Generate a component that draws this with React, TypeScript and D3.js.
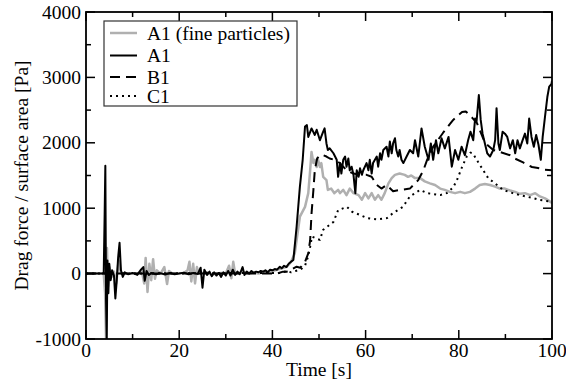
import * as d3 from "d3";

// time [s], drag force per surface area [Pa]
const a1Fine: [number, number][] = [
  [0, 0], [3.8, 0], [4.1, -300], [4.3, -1000], [4.5, 390], [4.7, -200], [5, 100], [5.5, -50],
  [6, 30], [6.5, -150], [7, 200], [7.5, 0], [9, 0], [11, 0], [12, 30], [12.5, -150],
  [12.8, 240], [13.2, -280], [13.6, 150], [14, -100], [14.4, 220], [14.8, -80], [15.2, 50],
  [16, 0], [16.8, 100], [17.4, -160], [17.8, 40], [18.5, 0], [21, 10], [21.8, 50], [22.2, 180],
  [22.6, -120], [23, 150], [23.4, -150], [23.8, 100], [24.2, 0], [26, 20], [27, -20], [28, 0],
  [29, 10], [30, 0], [30.7, 120], [31.2, -70], [31.6, 180], [32, 0], [34, 20], [35, 0],
  [36, 20], [37, 0], [38, 20], [39, 30], [40, 40], [41, 60], [42, 80], [43.1, 105], [44, 180],
  [44.8, 310], [45.9, 870], [47, 1020], [47.7, 1230], [48.1, 1580], [48.4, 1860], [48.8, 1690],
  [49.1, 1740], [49.5, 1630], [49.8, 1740], [50.2, 1630], [50.5, 1690], [50.9, 1480],
  [51.6, 1430], [51.9, 1280], [52.6, 1300], [53.3, 1230], [54.1, 1280], [54.5, 1230],
  [55.2, 1280], [55.9, 1200], [56.6, 1300], [57.4, 1230], [58.5, 1200], [59.2, 1130],
  [59.9, 1230], [60.6, 1150], [61.3, 1230], [62, 1130], [62.7, 1200], [63.4, 1130],
  [64.1, 1230], [64.9, 1380], [65.6, 1460], [66.3, 1510], [67.3, 1530], [68.4, 1510],
  [69.1, 1480], [69.8, 1500], [70.6, 1460], [71.7, 1460], [72.7, 1410], [73.8, 1380],
  [74.9, 1355], [76, 1300], [77, 1280], [78.1, 1250], [79.2, 1230], [80.3, 1250], [81.3, 1230],
  [82.4, 1250], [83.5, 1300], [84.5, 1355], [85.6, 1370], [86.7, 1355], [87.8, 1330],
  [88.8, 1300], [89.9, 1300], [91, 1270], [92.1, 1250], [93.1, 1220], [94.2, 1230],
  [95.3, 1200], [96.4, 1230], [97.4, 1180], [98.5, 1150], [99.6, 1100], [100, 1080],
];

const a1: [number, number][] = [
  [0, 0], [3.8, 0], [4, 900], [4.15, 1650], [4.3, -400], [4.45, -1000], [4.6, 200], [4.8, -300],
  [5, 150], [5.3, -100], [5.6, 50], [6, -30], [6.3, -380], [6.6, -100], [6.9, 250], [7.2, 470],
  [7.5, 50], [7.9, -50], [8.3, 20], [9, -10], [10, 10], [11, -20], [11.8, 60], [12.3, 100],
  [12.6, -110], [13, 40], [13.5, -20], [14, 10], [15, -10], [16, 5], [17, -15], [18, 10],
  [19, -10], [20, 0], [21, 15], [22, -10], [23, 10], [24, -5], [24.6, 90], [25, -215],
  [25.4, 60], [26, -20], [26.5, 30], [27, -40], [27.5, 20], [28, -30], [28.5, 10], [29, -50],
  [29.5, 20], [30, -30], [30.5, 40], [31, -30], [31.5, 60], [32, -20], [32.5, 30], [33, -10],
  [33.6, 100], [34, -20], [34.5, 30], [35, 0], [35.5, 40], [36, 10], [36.5, 30], [37, 20],
  [37.5, 40], [38, 30], [38.5, 50], [39, 20], [39.5, 60], [40, 50], [40.5, 70], [41, 60],
  [41.6, 105], [42, 80], [42.5, 120], [43, 100], [43.5, 150], [44, 180], [44.5, 210],
  [45.2, 720], [45.9, 1330], [46.5, 1740], [47, 2250], [47.4, 2270], [47.7, 2090],
  [48.4, 2220], [49.1, 2120], [49.5, 2200], [50.2, 2040], [50.9, 2170], [51.2, 2220],
  [51.6, 1990], [51.9, 1890], [52.3, 1915], [53.1, 1840], [53.8, 1740], [54.1, 1480],
  [54.5, 1690], [54.8, 1530], [55.2, 1740], [55.6, 1790], [55.9, 1635], [56.3, 1760],
  [56.6, 1580], [57, 1635], [57.4, 1510], [57.8, 1230], [58.1, 1580], [58.5, 1480],
  [58.8, 1610], [59.2, 1510], [59.5, 1580], [60.2, 1690], [60.6, 1580], [60.9, 1740],
  [61.3, 1530], [61.6, 1690], [62.4, 1790], [62.7, 1635], [63.1, 1840], [63.4, 1740],
  [63.8, 1890], [64.5, 1940], [64.9, 1790], [65.2, 2020], [65.6, 1840], [65.9, 1990],
  [66.3, 2070], [66.6, 1890], [67, 1790], [67.3, 1890], [67.7, 1740], [68.1, 1690],
  [68.8, 1790], [69.5, 1890], [70.2, 1840], [70.6, 2040], [71.3, 1790], [72, 2220],
  [72.7, 1940], [73.5, 1740], [74, 1990], [74.5, 1740], [75.1, 2040], [75.6, 1840],
  [76.3, 2070], [77, 1915], [77.8, 2090], [78.5, 1635], [79.2, 1890], [79.9, 1740],
  [80.6, 1940], [81.3, 1810], [82, 2040], [82.5, 2170], [83.1, 2040], [83.5, 2370],
  [83.8, 2320], [84.3, 2730], [84.7, 2350], [85.1, 2140], [85.6, 1990], [86.1, 1840],
  [86.7, 1790], [87.4, 1890], [87.8, 2040], [88.1, 2530], [88.5, 1990], [88.8, 1890],
  [89.4, 2170], [89.9, 2140], [90.4, 2090], [91, 1915], [91.6, 2040], [92.1, 1840],
  [92.6, 2040], [93.1, 1915], [93.7, 2040], [94.2, 2140], [94.7, 1990], [95.1, 2370],
  [95.6, 2090], [96.1, 1940], [96.6, 2120], [97.1, 1970], [97.6, 1740], [98, 2090],
  [98.5, 2400], [99, 2700], [99.4, 2860], [99.9, 2900], [100, 2950],
];

const b1: [number, number][] = [
  [0, 0], [41, 0], [42.3, 30], [43.1, 30], [44, 60], [45.2, 105], [46, 90], [47, 180],
  [47.7, 310], [48.1, 510], [48.4, 920], [48.8, 1280], [49.1, 1580], [49.6, 1760],
  [50.2, 1810], [50.9, 1810], [51.6, 1790], [52.3, 1760], [53.3, 1740], [54.5, 1690],
  [55.9, 1580], [57.4, 1530], [58.8, 1510], [60.2, 1510], [61.3, 1480], [62.4, 1355],
  [63.4, 1300], [64.5, 1355], [65.9, 1260], [67.5, 1280], [69.5, 1300], [71.3, 1430],
  [72.4, 1580], [73.2, 1740], [74.5, 1940], [76.6, 2150], [78.8, 2350], [80.7, 2470],
  [81.5, 2480], [82.8, 2390], [83.9, 2300], [85.6, 2000], [87.4, 1890], [88.8, 1860],
  [91, 1810], [92, 1760], [93.8, 1700], [95.7, 1630], [97, 1615], [98, 1590], [100, 1580],
];

const c1: [number, number][] = [
  [0, 0], [42, 10], [43, 40], [44, 20], [45, 40], [46, 60], [47, 120], [47.6, 250],
  [48.1, 410], [48.5, 565], [49.3, 540], [50.2, 515], [50.9, 670], [53.1, 790], [54.1, 970],
  [56, 1020], [57.1, 946], [58.8, 896], [60.3, 850], [62.5, 830], [64.6, 850], [65.9, 926],
  [68, 1020], [69.5, 1180], [71.7, 1280], [73.2, 1230], [76, 1200], [77.4, 1230],
  [78.8, 1320], [79.6, 1430], [80.7, 1630], [81.7, 1790], [82.5, 1850], [83, 1840],
  [84.1, 1710], [85.2, 1585], [86.3, 1460], [88.2, 1355], [89.5, 1280], [91.6, 1230],
  [93.1, 1200], [95.9, 1155], [97.4, 1125], [100, 1100],
];

const xTicks = [0, 20, 40, 60, 80, 100];
const yTicks = [-1000, 0, 1000, 2000, 3000, 4000];
const legendLabels = ["A1 (fine particles)", "A1", "B1", "C1"];

const W = 566;
const H = 381;
const left = 86;
const right = 552;
const top = 12;
const bottom = 339;
const font = "Liberation Serif, DejaVu Serif, serif";

const styles = [
  { stroke: "#b0b0b0", width: 2.5, dash: undefined },
  { stroke: "#000", width: 2, dash: undefined },
  { stroke: "#000", width: 2, dash: "10,6" },
  { stroke: "#000", width: 2, dash: "2,4" },
];

export default function App() {
  const x = d3.scaleLinear().domain([0, 100]).range([left, right]);
  const y = d3.scaleLinear().domain([-1000, 4000]).range([bottom, top]);
  const line = d3
    .line<[number, number]>()
    .x((d) => x(d[0]))
    .y((d) => y(d[1]));

  const series = [a1Fine, a1, b1, c1];
  // draw order: grey first, dotted, dashed, then black on top
  const order = [0, 3, 2, 1];

  const xMinor = d3.range(0, 101, 10);
  const yMinor = d3.range(-1000, 4001, 500);

  const legendRows = [33, 55.5, 77, 96];

  return (
    <svg width={W} height={H} style={{ position: "absolute", left: 0, top: 0, background: "#fff", fontFamily: font }}>
      <defs>
        <clipPath id="plot">
          <rect x={left} y={top} width={right - left} height={bottom - top} />
        </clipPath>
      </defs>
      <g clipPath="url(#plot)" fill="none" strokeLinejoin="round">
        {order.map((i) => (
          <path
            key={i}
            d={line(series[i]) ?? ""}
            stroke={styles[i].stroke}
            strokeWidth={styles[i].width}
            strokeDasharray={styles[i].dash}
          />
        ))}
      </g>

      {/* ticks on all four sides */}
      <g stroke="#000" strokeWidth={1.5}>
        {xMinor.map((t) => {
          const len = t % 20 === 0 ? 9 : 5;
          return (
            <g key={"x" + t}>
              <line x1={x(t)} x2={x(t)} y1={bottom} y2={bottom - len} />
              <line x1={x(t)} x2={x(t)} y1={top} y2={top + len} />
            </g>
          );
        })}
        {yMinor.map((v) => {
          const len = v % 1000 === 0 ? 9 : 5;
          return (
            <g key={"y" + v}>
              <line x1={left} x2={left + len} y1={y(v)} y2={y(v)} />
              <line x1={right} x2={right - len} y1={y(v)} y2={y(v)} />
            </g>
          );
        })}
      </g>
      <rect x={left} y={top} width={right - left} height={bottom - top} fill="none" stroke="#000" strokeWidth={1.8} />

      <g style={{ fontFamily: font }} fontSize={19.5} fill="#000">
        {xTicks.map((t) => (
          <text key={t} x={x(t)} y={357} textAnchor="middle">{t}</text>
        ))}
        {yTicks.map((v) => (
          <text key={v} x={81} y={y(v) + 6.5} textAnchor="end">{v}</text>
        ))}
        <text x={(left + right) / 2} y={376} textAnchor="middle">Time [s]</text>
        <text transform={`translate(28,${(top + bottom) / 2}) rotate(-90)`} textAnchor="middle">
          Drag force / surface area [Pa]
        </text>
      </g>

      {/* legend */}
      <rect x={104} y={21} width={193} height={85} fill="#fff" stroke="#333" strokeWidth={1.2} />
      {legendLabels.map((label, i) => (
        <g key={label}>
          <line
            x1={110}
            x2={137}
            y1={legendRows[i]}
            y2={legendRows[i]}
            stroke={styles[i].stroke}
            strokeWidth={styles[i].width}
            strokeDasharray={styles[i].dash}
          />
          <text x={147} y={legendRows[i] + 6.5} style={{ fontFamily: font }} fontSize={19.5}>
            {label}
          </text>
        </g>
      ))}
    </svg>
  );
}
